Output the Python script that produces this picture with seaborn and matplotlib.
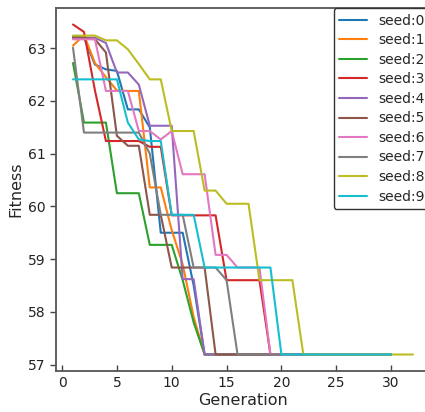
import matplotlib
matplotlib.use('Agg')
import matplotlib.pyplot as plt
import seaborn as sns
import pandas as pd

# ==============================
# DATA (best fitness per generation)
# ==============================
seeds = ['seed:0', 'seed:1', 'seed:2', 'seed:3', 'seed:4',
         'seed:5', 'seed:6', 'seed:7', 'seed:8', 'seed:9']

seed0 = [63.23, 63.20, 62.69, 62.60, 62.57, 61.84, 61.84, 61.50, 59.50, 59.50,
         59.50, 58.50, 57.19, 57.19, 57.19, 57.19, 57.19, 57.19, 57.19, 57.19,
         57.19, 57.19, 57.19, 57.19, 57.19, 57.19, 57.19, 57.19, 57.19, 57.19]
seed1 = [63.05, 63.25, 62.72, 62.45, 62.20, 62.19, 62.19, 60.36, 60.36, 59.55,
         58.90, 57.90, 57.19, 57.19, 57.19, 57.19, 57.19, 57.19, 57.19, 57.19,
         57.19, 57.19, 57.19, 57.19, 57.19, 57.19, 57.19, 57.19, 57.19, 57.19]
seed2 = [62.72, 61.59, 61.59, 61.59, 60.25, 60.25, 60.25, 59.27, 59.27, 59.27,
         58.60, 57.80, 57.19, 57.19, 57.19, 57.19, 57.19, 57.19, 57.19, 57.19,
         57.19, 57.19, 57.19, 57.19, 57.19, 57.19, 57.19, 57.19, 57.19, 57.19]
seed3 = [63.45, 63.31, 62.20, 61.24, 61.24, 61.24, 61.24, 61.13, 61.13, 59.83,
         59.83, 59.83, 59.83, 59.83, 58.60, 58.60, 58.60, 58.60, 57.19, 57.19,
         57.19, 57.19, 57.19, 57.19, 57.19, 57.19, 57.19, 57.19, 57.19, 57.19]
seed4 = [63.20, 63.20, 63.20, 63.10, 62.54, 62.54, 62.31, 61.53, 61.53, 61.53,
         58.62, 58.62, 57.19, 57.19, 57.19, 57.19, 57.19, 57.19, 57.19, 57.19,
         57.19, 57.19, 57.19, 57.19, 57.19, 57.19, 57.19, 57.19, 57.19, 57.19]
seed5 = [63.20, 63.20, 63.17, 62.92, 61.34, 61.15, 61.15, 59.84, 59.84, 58.84,
         58.84, 58.84, 58.84, 57.19, 57.19, 57.19, 57.19, 57.19, 57.19, 57.19,
         57.19, 57.19, 57.19, 57.19, 57.19, 57.19, 57.19, 57.19, 57.19, 57.19]
seed6 = [63.17, 63.17, 63.17, 62.19, 62.19, 62.19, 61.43, 61.43, 61.27, 61.43,
         60.61, 60.61, 60.61, 59.08, 59.08, 58.84, 58.84, 58.84, 57.19, 57.19,
         57.19, 57.19, 57.19, 57.19, 57.19, 57.19, 57.19, 57.19, 57.19, 57.19]
seed7 = [63.01, 61.40, 61.40, 61.40, 61.40, 61.40, 61.40, 61.00, 59.84, 59.84,
         59.84, 58.84, 58.84, 58.84, 58.60, 57.19, 57.19, 57.19, 57.19, 57.19,
         57.19, 57.19, 57.19, 57.19, 57.19, 57.19, 57.19, 57.19, 57.19, 57.19]
seed8 = [63.24, 63.24, 63.24, 63.15, 63.15, 62.98, 62.70, 62.41, 62.41, 61.43,
         61.43, 61.43, 60.30, 60.30, 60.05, 60.05, 60.05, 58.60, 58.60, 58.60,
         58.60, 57.19, 57.19, 57.19, 57.19, 57.19, 57.19, 57.19, 57.19, 57.19,
         57.19, 57.19]
seed9 = [62.41, 62.41, 62.41, 62.41, 62.41, 61.59, 61.27, 61.24, 61.24, 59.84,
         59.84, 59.84, 58.84, 58.84, 58.84, 58.84, 58.84, 58.84, 58.84, 57.19,
         57.19, 57.19, 57.19, 57.19, 57.19, 57.19, 57.19, 57.19, 57.19, 57.19]

series = [seed0, seed1, seed2, seed3, seed4, seed5, seed6, seed7, seed8, seed9]

# tabel panjang untuk seaborn
rows = []
for name, vals in zip(seeds, series):
    for gen, fit in enumerate(vals, start=1):
        rows.append({'Generation': gen, 'Fitness': fit, 'seed': name})
df = pd.DataFrame(rows)

# ==============================
# PLOT
# ==============================
sns.set_style('white')
plt.rcParams['font.family'] = ['DejaVu Sans']

fig = plt.figure(figsize=(4.25, 4.12), dpi=100)
ax = fig.add_axes([0.1318, 0.0995, 0.88, 0.881])

sns.lineplot(data=df, x='Generation', y='Fitness', hue='seed',
             palette='tab10', linewidth=1.5, ax=ax)

ax.set_xticks([0, 5, 10, 15, 20, 25, 30])
ax.set_yticks([57, 58, 59, 60, 61, 62, 63])
ax.tick_params(axis='y', direction='out', length=4, width=1, colors='#444444',
               labelsize=10, labelcolor='#222222', left=True)
ax.tick_params(axis='x', direction='in', length=4, width=1, colors='#444444',
               labelsize=10, labelcolor='#222222', bottom=True)
for sp in ax.spines.values():
    sp.set_color('#555555')
    sp.set_linewidth(1.3)

ax.set_xlabel('Generation', fontsize=11.5, labelpad=2)
ax.set_ylabel('Fitness', fontsize=11.5, labelpad=3)

leg = ax.legend(loc='upper right', bbox_to_anchor=(1.0, 1.0), borderaxespad=0,
                fontsize=10, frameon=True, fancybox=True, framealpha=1,
                labelspacing=0.4)
leg.get_frame().set_edgecolor('#333333')
leg.get_frame().set_linewidth(1.0)

plt.savefig('out.png', dpi=100)
plt.close()
